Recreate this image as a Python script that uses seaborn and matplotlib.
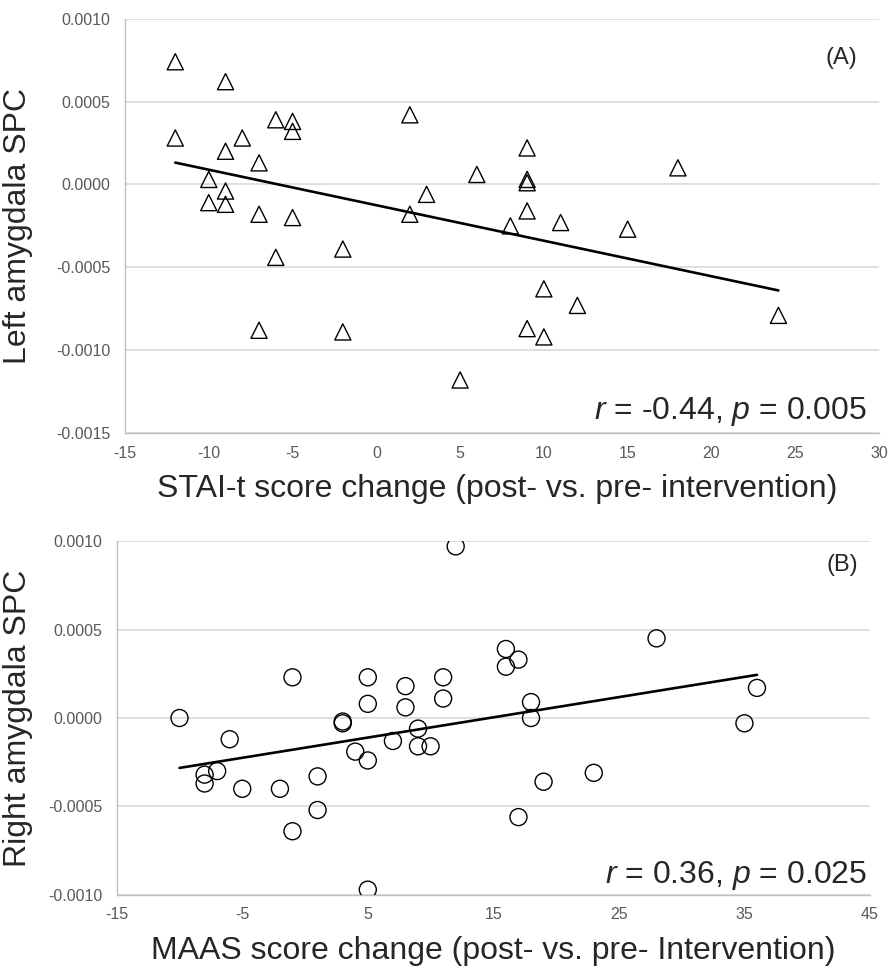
import matplotlib
matplotlib.use("Agg")
import matplotlib.pyplot as plt
import seaborn as sns
import numpy as np
import pandas as pd
from matplotlib.ticker import FormatStrFormatter, MultipleLocator

# --- Data ---
# (A) STAI-t change vs left amygdala SPC
stai_change = [-12, -12, -9, -9, -10, -10, -9, -9, -8, -7, -7, -6, -6, -5, -5, -5,
               -7, -2, -2, 2, 2, 3,
               5, 6, 8, 9, 9, 9, 9, 9, 10, 10, 11, 12, 15, 18, 24]
left_spc = [0.00074, 0.00028, 0.00062, 0.00020, 0.00003, -0.00011, -0.00004, -0.00012,
            0.00028, 0.00013, -0.00018, 0.00039, -0.00044, 0.00038, 0.00032, -0.00020,
            -0.00088, -0.00039, -0.00089, 0.00042, -0.00018, -0.00006,
            -0.00118, 0.00006, -0.00025, 0.00022, 0.00003, 0.00001, -0.00016, -0.00087,
            -0.00063, -0.00092, -0.00023, -0.00073, -0.00027, 0.00010, -0.00079]

# (B) MAAS change vs right amygdala SPC
maas_change = [-10, -8, -8, -7, -6, -5, -2, -1, -1, 1, 1, 3, 3, 4, 5, 5, 5, 5,
               7, 8, 8, 9, 9, 10,
               12, 11, 11, 16, 16, 17, 18, 18, 17, 19, 23, 28, 36, 35]
right_spc = [0.0, -0.00032, -0.00037, -0.00030, -0.00012, -0.00040, -0.00040, 0.00023,
             -0.00064, -0.00033, -0.00052, -0.00002, -0.00003, -0.00019, 0.00023, 0.00008,
             -0.00024, -0.00097, -0.00013, 0.00018, 0.00006, -0.00006, -0.00016, -0.00016,
             0.00097, 0.00023, 0.00011, 0.00039, 0.00029, 0.00033, 0.00009, 0.0,
             -0.00056, -0.00036, -0.00031, 0.00045, 0.00017, -0.00003]

xticks_a = [-15, -10, -5, 0, 5, 10, 15, 20, 25, 30]
xticks_b = [-15, -5, 5, 15, 25, 35, 45]

stats_a = r"$\it{r}$ = -0.44, $\it{p}$ = 0.005"
stats_b = r"$\it{r}$ = 0.36, $\it{p}$ = 0.025"

sns.set_style("white")
plt.rcParams["font.family"] = ["Liberation Sans", "DejaVu Sans"]
plt.rcParams["mathtext.fontset"] = "custom"
plt.rcParams["mathtext.rm"] = "Liberation Sans"
plt.rcParams["mathtext.it"] = "Liberation Sans:italic"
plt.rcParams["axes.unicode_minus"] = False

GRID = "#d9d9d9"
SPINE = "#bfbfbf"
TICK_TXT = "#595959"


def style_axes(ax):
    ax.yaxis.grid(True, color=GRID, linewidth=1.2)
    ax.xaxis.grid(False)
    ax.set_axisbelow(True)
    sns.despine(ax=ax)
    for side in ["left", "bottom"]:
        ax.spines[side].set_color(SPINE)
        ax.spines[side].set_linewidth(1.0)
    ax.tick_params(axis="both", direction="out", length=4, width=1, color=SPINE,
                   labelsize=11.5, labelcolor=TICK_TXT)
    ax.tick_params(axis="x", pad=5)
    ax.tick_params(axis="y", pad=6.5)
    ax.yaxis.set_major_formatter(FormatStrFormatter("%.4f"))


fig = plt.figure(figsize=(8.91, 9.67), dpi=100)

# --- Panel A ---
ax1 = fig.add_axes([0.1403, 0.5522, 0.8462, 0.4285])
df_a = pd.DataFrame({"x": stai_change, "y": left_spc})
sns.scatterplot(data=df_a, x="x", y="y", ax=ax1, marker="^", s=135,
                facecolor="none", edgecolor="black", linewidth=1.0, zorder=3)
sns.regplot(data=df_a, x="x", y="y", ax=ax1, scatter=False, ci=None, truncate=True,
            line_kws={"color": "black", "linewidth": 1.9})
ax1.set_xlim(-15, 30)
ax1.set_ylim(-0.0015, 0.0010)
ax1.set_xticks(xticks_a)
ax1.yaxis.set_major_locator(MultipleLocator(0.0005))
style_axes(ax1)
ax1.set_xlabel("STAI-t score change (post- vs. pre- intervention)", fontsize=23)
ax1.set_ylabel("Left amygdala SPC", fontsize=23)
ax1.xaxis.set_label_coords(0.494, -0.099)
ax1.yaxis.set_label_coords(-0.122, 0.5)
ax1.text(0.95, 0.905, "(A)", transform=ax1.transAxes, fontsize=17,
         ha="center", va="center")
ax1.text(0.984, 0.034, stats_a, transform=ax1.transAxes, fontsize=23,
         ha="right", va="baseline")

# --- Panel B ---
ax2 = fig.add_axes([0.131, 0.0745, 0.8454, 0.366])
df_b = pd.DataFrame({"x": maas_change, "y": right_spc})
sns.scatterplot(data=df_b, x="x", y="y", ax=ax2, marker="o", s=150,
                facecolor="none", edgecolor="black", linewidth=1.0, zorder=3)
sns.regplot(data=df_b, x="x", y="y", ax=ax2, scatter=False, ci=None, truncate=True,
            line_kws={"color": "black", "linewidth": 1.9})
ax2.set_xlim(-15, 45)
ax2.set_ylim(-0.0010, 0.0010)
ax2.set_xticks(xticks_b)
ax2.yaxis.set_major_locator(MultipleLocator(0.0005))
style_axes(ax2)
ax2.set_xlabel("MAAS score change (post- vs. pre- Intervention)", fontsize=23)
ax2.set_ylabel("Right amygdala SPC", fontsize=23)
ax2.xaxis.set_label_coords(0.5, -0.116)
ax2.yaxis.set_label_coords(-0.111, 0.5)
ax2.text(0.963, 0.932, "(B)", transform=ax2.transAxes, fontsize=17,
         ha="center", va="center")
ax2.text(0.996, 0.034, stats_b, transform=ax2.transAxes, fontsize=23,
         ha="right", va="baseline")

fig.savefig("out.png", dpi=100)
